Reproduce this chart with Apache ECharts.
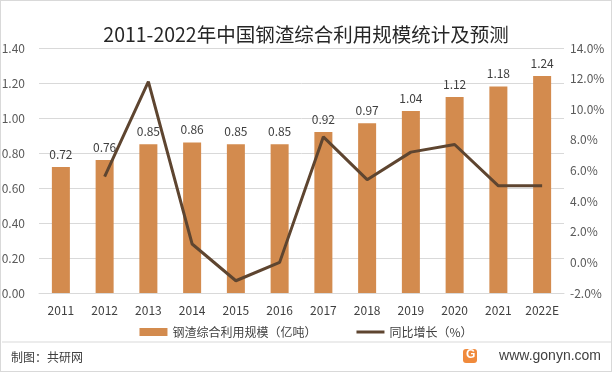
<!DOCTYPE html>
<html><head><meta charset="utf-8">
<script src="https://cdn.jsdelivr.net/npm/echarts@6/dist/echarts.min.js"></script>
<style>html,body{margin:0;padding:0;background:#fff}#c{width:612px;height:372px;box-sizing:border-box;border:1px solid #d9d9d9}</style>
</head><body><div id="c"></div>
<script>
const categories = ['2011','2012','2013','2014','2015','2016','2017','2018','2019','2020','2021','2022E'];
const scale = [0.72,0.76,0.85,0.86,0.85,0.85,0.92,0.97,1.04,1.12,1.18,1.24];
const growth = [null,5.6,11.8,1.2,-1.2,0.0,8.2,5.4,7.2,7.7,5.0,5.0];
const chart = echarts.init(document.getElementById('c'));
const font = '"Microsoft YaHei","Noto Sans CJK SC",sans-serif';
chart.setOption({
  animation:false,
  textStyle:{fontFamily:font},
  title:{text:'2011-2022年中国钢渣综合利用规模统计及预测',left:'center',top:19,textStyle:{fontSize:19.5,fontWeight:'normal',color:'#262626',fontFamily:font}},
  grid:{left:38,right:47,top:47,bottom:78,outerBoundsMode:'none',containLabel:false},
  legend:{bottom:28,itemGap:40,itemWidth:28,itemHeight:8,textStyle:{fontSize:12,color:'#404040'},
    data:[{name:'钢渣综合利用规模（亿吨）',icon:'rect'},{name:'同比增长（%）',icon:'path://M0,4L28,4L28,7L0,7Z'}]},
  graphic:[
    {type:'line',shape:{x1:1,y1:341,x2:611,y2:341},style:{stroke:'#d9d9d9',lineWidth:1}},
    {type:'text',left:10,top:350,style:{text:'制图：共研网',fontSize:12,fill:'#404040',fontFamily:font}},
    {type:'rect',shape:{x:462,y:348,width:14,height:14,r:3},style:{fill:'#F08A3C'}},
    {type:'text',x:465,y:348,style:{text:'G',fontSize:12,fontWeight:'bold',fill:'#fff',fontFamily:'Arial'}},
    {type:'text',right:10,top:348,style:{text:'www.gonyn.com',fontSize:14,fill:'#404040',fontFamily:'Arial'}}
  ],
  xAxis:{type:'category',data:categories,axisTick:{show:false},axisLine:{lineStyle:{color:'#d9d9d9'}},
    axisLabel:{color:'#404040',fontSize:12,margin:11,interval:0}},
  yAxis:[
    {type:'value',min:0,max:1.4,interval:0.2,axisLabel:{formatter:v=>v.toFixed(2),color:'#595959',fontSize:12,margin:14},
     splitLine:{lineStyle:{color:'#d9d9d9'}},axisLine:{show:false},axisTick:{show:false}},
    {type:'value',min:-2,max:14,interval:2,axisLabel:{formatter:v=>v.toFixed(1)+'%',color:'#595959',fontSize:12,margin:6},
     splitLine:{show:false},axisLine:{show:false},axisTick:{show:false}}
  ],
  series:[
    {name:'钢渣综合利用规模（亿吨）',type:'bar',data:scale,barWidth:18,itemStyle:{color:'#D38B4E'},
     label:{show:true,position:'top',color:'#404040',fontSize:12,distance:7,formatter:p=>p.value.toFixed(2)}},
    {name:'同比增长（%）',type:'line',yAxisIndex:1,data:growth,symbol:'none',lineStyle:{color:'#5E4530',width:3},itemStyle:{color:'#5E4530'}}
  ]
});
</script></body></html>
